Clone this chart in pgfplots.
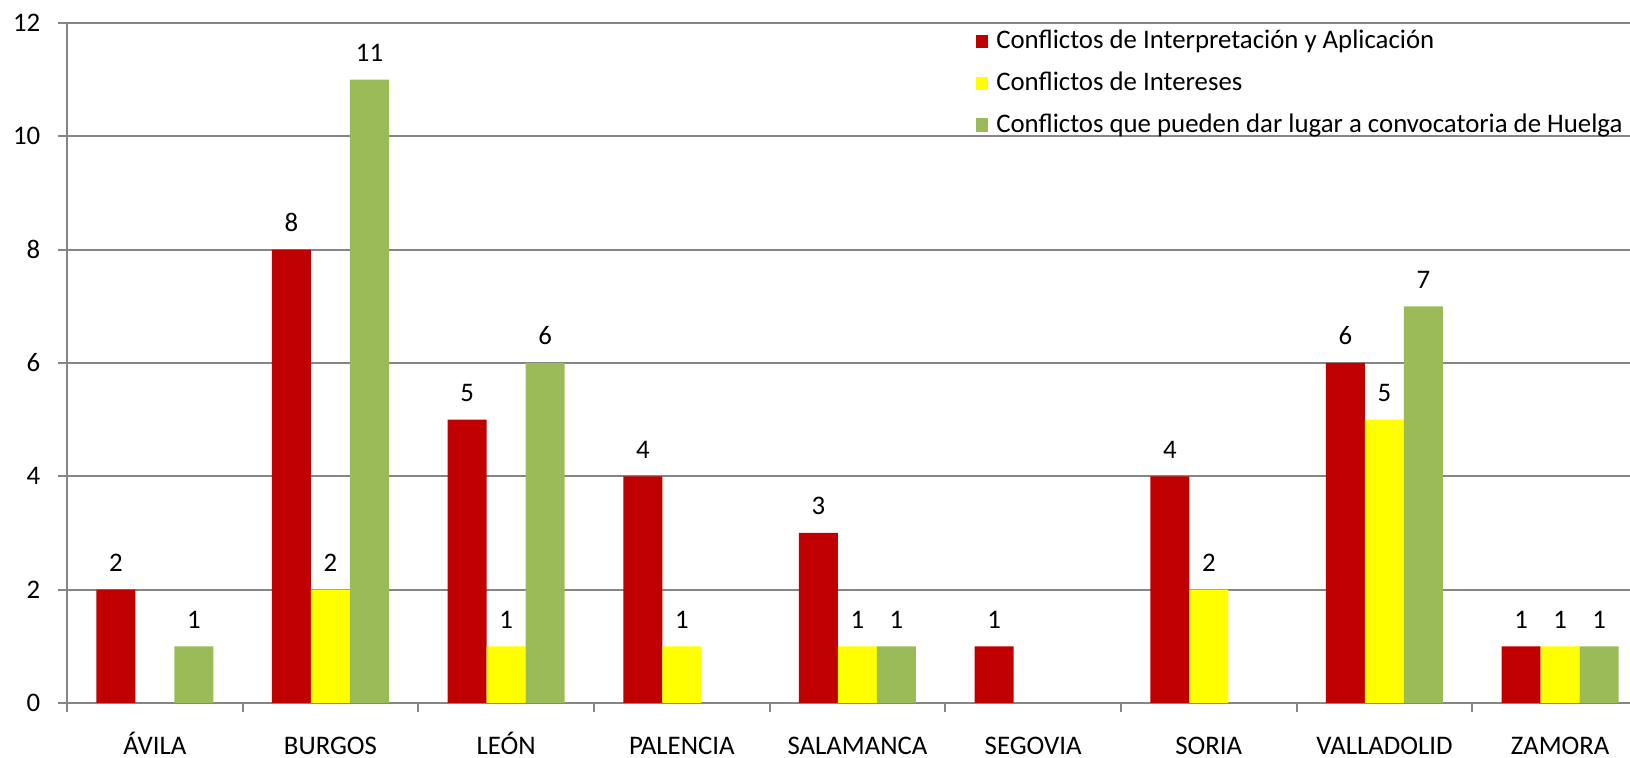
\documentclass[border=0pt]{standalone}
\usepackage{pgfplots}
\pgfplotsset{compat=1.18}
\usepackage{fontspec}
\setmainfont{Carlito}
\definecolor{cred}{HTML}{C00000}
\definecolor{cyel}{HTML}{FFFF00}
\definecolor{cgrn}{HTML}{9BBB59}
\definecolor{cgray}{HTML}{868686}
\begin{document}
\fontsize{13.4pt}{16pt}\selectfont
\begin{tikzpicture}[x=1pt,y=1pt]
\clip (0,0) rectangle (815,379);
\begin{axis}[
  at={(33.5pt,27.5pt)}, anchor=south west,
  scale only axis, width=790.5pt, height=340pt,
  ybar=0pt, bar width=19.5pt,
  xmin=-0.5, xmax=8.5, ymin=0, ymax=12,
  ytick={0,2,...,12},
  xtick={-0.5,0.5,...,8.5},
  x tick label as interval,
  xticklabels={ÁVILA,BURGOS,LEÓN,PALENCIA,SALAMANCA,SEGOVIA,SORIA,VALLADOLID,ZAMORA},
  xticklabel style={text height=9.5pt, text depth=2.5pt, yshift=-7pt},
  yticklabel style={xshift=-4.2pt},
  tick align=outside, major tick length=4.5pt,
  tick style={cgray, line width=1pt},
  axis x line*=bottom, axis y line*=left,
  axis line style={cgray, line width=1pt, -},
  ymajorgrids, grid style={cgray, line width=1pt},
  /pgf/number format/assume math mode=true,
  nodes near coords,
  every node near coord/.append style={black, yshift=4.4pt},
  legend style={at={(rel axis cs:0.5745,0.989)}, anchor=north west,
    draw=none, fill=none, inner sep=0pt, row sep=9.3pt, column sep=4pt,
    nodes={inner sep=0pt, text height=9pt, text depth=2.5pt}},
  legend cell align=left,
  legend image code/.code={\fill[#1] (0pt,-3pt) rectangle (6.3pt,3.6pt);},
]
\addplot[fill=cred, draw=none] coordinates {(0,2) (1,8) (2,5) (3,4) (4,3) (5,1) (6,4) (7,6) (8,1)};
\addplot[fill=cyel, draw=none] coordinates {(1,2) (2,1) (3,1) (4,1) (6,2) (7,5) (8,1)};
\addplot[fill=cgrn, draw=none] coordinates {(0,1) (1,11) (2,6) (4,1) (7,7) (8,1)};
\legend{Conflictos de Interpretación y Aplicación, Conflictos de Intereses, Conflictos que pueden dar lugar a convocatoria de Huelga}
\end{axis}
\end{tikzpicture}
\end{document}
